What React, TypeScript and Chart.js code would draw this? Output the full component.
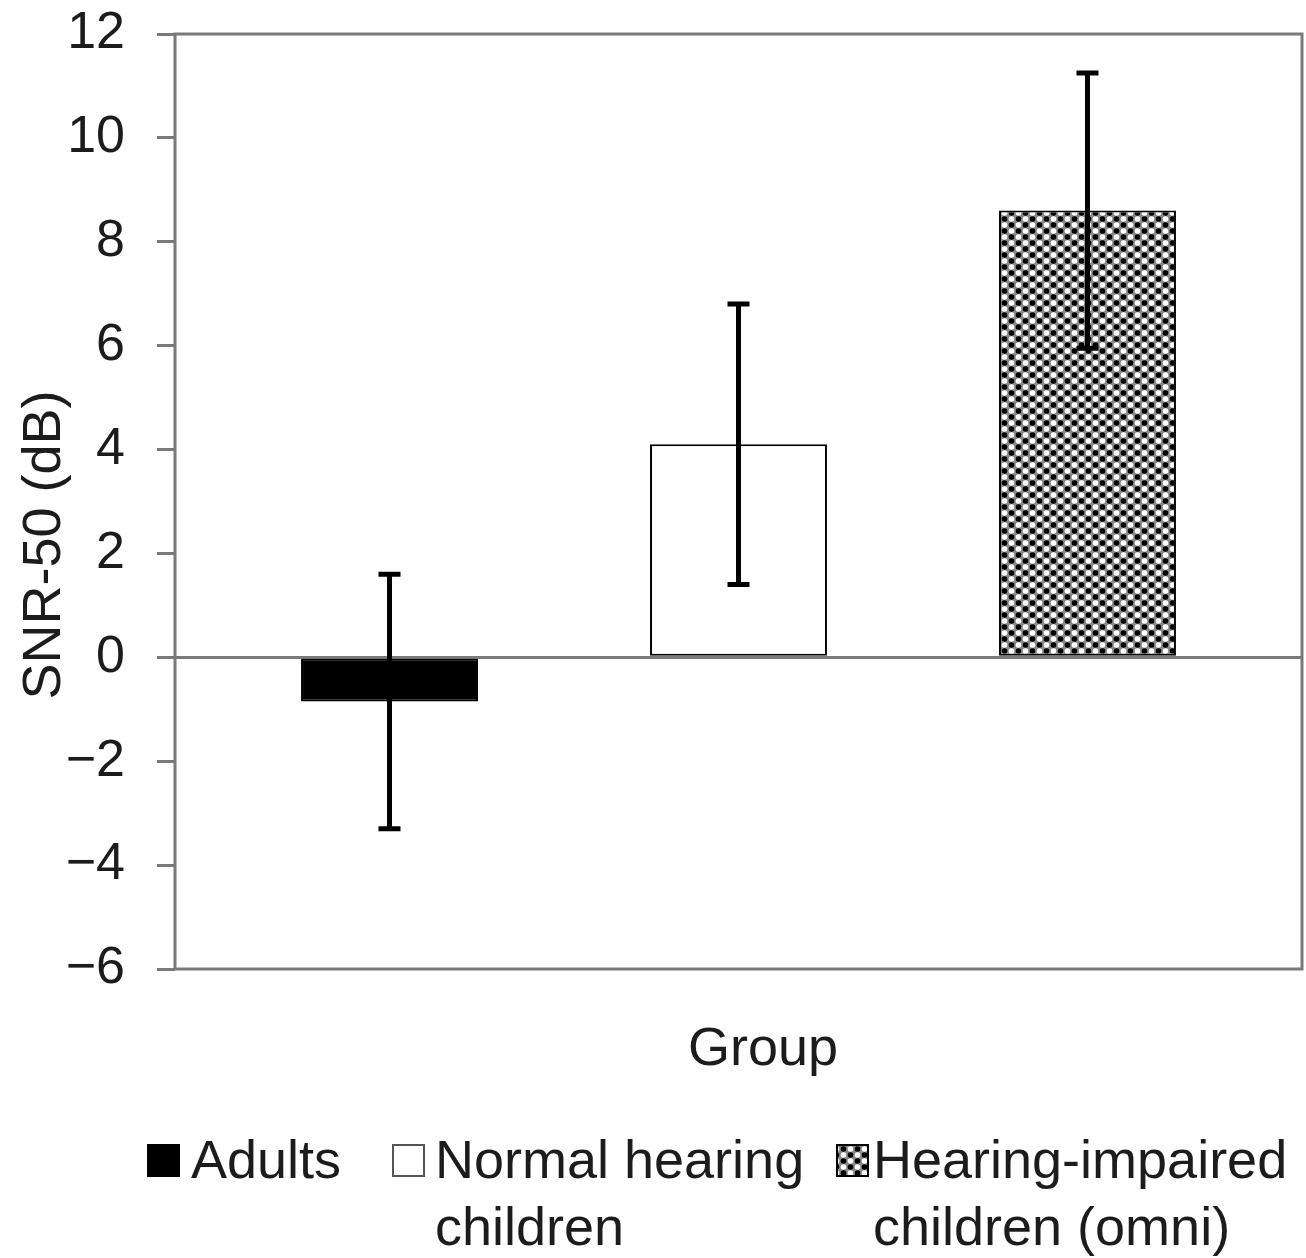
import { useEffect, useRef } from 'react';
import { Chart, registerables } from 'chart.js';

Chart.register(...registerables);

// Chart values
const categories = ['Group'];
const seriesNames: string[][] = [
  ['Adults'],
  ['Normal hearing', 'children'],
  ['Hearing-impaired', 'children (omni)'],
];
const seriesMeans = [-0.85, 4.1, 8.6];
const seriesErrors = [2.45, 2.7, 2.65];
const yMin = -6;
const yMax = 12;
const yStep = 2;
const yAxisTitle = 'SNR-50 (dB)';

const FONT = '"Liberation Sans", Arial, Helvetica, sans-serif';
const INK = '#1c1c1c';
const AXIS = '#7a7a7a';
const TICK_SIZE = 52;
const TEXT_SIZE = 54;

function makeDotPattern(ctx: CanvasRenderingContext2D): CanvasPattern | string {
  const w = 14;
  const h = 12;
  const tile = document.createElement('canvas');
  tile.width = w;
  tile.height = h;
  const t = tile.getContext('2d');
  if (!t) return '#888';
  t.fillStyle = '#8a8a8a';
  t.fillRect(0, 0, w, h);
  const dot = (x: number, y: number, c: string) => {
    t.fillStyle = c;
    t.beginPath();
    t.arc(x, y, 2.8, 0, Math.PI * 2);
    t.fill();
  };
  dot(w / 4, h / 4, '#ffffff');
  dot((3 * w) / 4, h / 4, '#000000');
  dot(w / 4, (3 * h) / 4, '#000000');
  dot((3 * w) / 4, (3 * h) / 4, '#ffffff');
  return ctx.createPattern(tile, 'repeat') || '#888';
}

export default function App() {
  const canvasRef = useRef<HTMLCanvasElement | null>(null);

  useEffect(() => {
    const canvas = canvasRef.current;
    if (!canvas) return;
    const ctx = canvas.getContext('2d');
    if (!ctx) return;

    const dotted = makeDotPattern(ctx);
    const fills: (string | CanvasPattern)[] = ['#000000', '#ffffff', dotted];

    // Frame around the plot area
    const framePlugin = {
      id: 'frame',
      beforeDatasetsDraw(chart: any) {
        const { ctx: c, chartArea: a } = chart;
        c.save();
        c.strokeStyle = AXIS;
        c.lineWidth = 3;
        c.strokeRect(a.left, a.top, a.right - a.left, a.bottom - a.top);
        c.restore();
      },
    };

    // Whiskers showing ± error around each bar
    const errorBarPlugin = {
      id: 'errorBars',
      afterDatasetsDraw(chart: any) {
        const { ctx: c } = chart;
        const yScale = chart.scales.y;
        c.save();
        c.strokeStyle = '#000';
        c.lineWidth = 5;
        c.lineCap = 'butt';
        chart.data.datasets.forEach((ds: any, i: number) => {
          const meta = chart.getDatasetMeta(i);
          meta.data.forEach((bar: any, j: number) => {
            const v = ds.data[j];
            const e = ds.errors[j];
            const x = bar.x;
            const yHi = yScale.getPixelForValue(v + e);
            const yLo = yScale.getPixelForValue(v - e);
            c.beginPath();
            c.moveTo(x, yHi);
            c.lineTo(x, yLo);
            c.moveTo(x - 11, yHi);
            c.lineTo(x + 11, yHi);
            c.moveTo(x - 11, yLo);
            c.lineTo(x + 11, yLo);
            c.stroke();
          });
        });
        c.restore();
      },
    };

    // Axis titles and the two-line legend under the plot
    const textPlugin = {
      id: 'texts',
      afterDraw(chart: any) {
        const { ctx: c } = chart;
        c.save();
        c.fillStyle = INK;
        c.font = `${TEXT_SIZE}px ${FONT}`;
        c.textAlign = 'center';
        c.textBaseline = 'middle';
        c.save();
        c.translate(45, 545);
        c.rotate(-Math.PI / 2);
        c.fillText(yAxisTitle, 0, 0);
        c.restore();
        c.fillText(chart.data.labels[0], 763, 1050);

        const boxX = [148, 393, 837];
        const textX = [191, 435, 873];
        const box = 31;
        const line1 = 1178;
        const line2 = 1245;
        c.textAlign = 'left';
        c.textBaseline = 'alphabetic';
        chart.data.datasets.forEach((ds: any, i: number) => {
          c.fillStyle = fills[i];
          c.fillRect(boxX[i], 1145, box, box);
          c.strokeStyle = i === 1 ? '#555' : '#000';
          c.lineWidth = 2;
          c.strokeRect(boxX[i], 1145, box, box);
          c.fillStyle = INK;
          const lines: string[] = ds.legendLines;
          lines.forEach((ln, k) => c.fillText(ln, textX[i], k === 0 ? line1 : line2));
        });
        c.restore();
      },
    };

    const chart = new Chart(ctx, {
      type: 'bar',
      data: {
        labels: categories,
        datasets: seriesMeans.map((m, i) => ({
          label: seriesNames[i].join(' '),
          legendLines: seriesNames[i],
          errors: [seriesErrors[i]],
          data: [m],
          backgroundColor: fills[i],
          borderColor: '#000',
          borderWidth: 2,
          borderSkipped: false,
          categoryPercentage: 0.929,
          barPercentage: 0.507,
        })) as any,
      },
      options: {
        animation: false,
        responsive: false,
        maintainAspectRatio: false,
        layout: { padding: { top: 34, right: 4, bottom: 0, left: 0 } },
        plugins: {
          legend: { display: false },
          tooltip: { enabled: false },
        },
        scales: {
          x: {
            ticks: { display: false },
            grid: { display: false },
            border: { display: false },
            afterFit: (s: any) => {
              s.height = 289;
            },
          },
          y: {
            min: yMin,
            max: yMax,
            ticks: {
              stepSize: yStep,
              font: { family: FONT, size: TICK_SIZE },
              color: INK,
              padding: 32,
              callback: (v: any) => String(v).replace('-', '\u2212'),
            },
            grid: {
              drawTicks: true,
              tickLength: 18,
              color: (c: any) => (c.tick && c.tick.value === 0 ? AXIS : 'rgba(0,0,0,0)'),
              tickColor: AXIS,
              lineWidth: 3,
              tickWidth: 3,
            },
            border: { display: false },
            afterFit: (s: any) => {
              s.width = 175;
              s.paddingTop = 0;
              s.paddingBottom = 0;
            },
          },
        },
      },
      plugins: [framePlugin, errorBarPlugin, textPlugin],
    });

    return () => chart.destroy();
  }, []);

  return (
    <div style={{ position: 'absolute', left: 0, top: 0, width: 1306, height: 1258, background: '#fff' }}>
      <canvas ref={canvasRef} width={1306} height={1258} style={{ display: 'block' }} />
    </div>
  );
}
